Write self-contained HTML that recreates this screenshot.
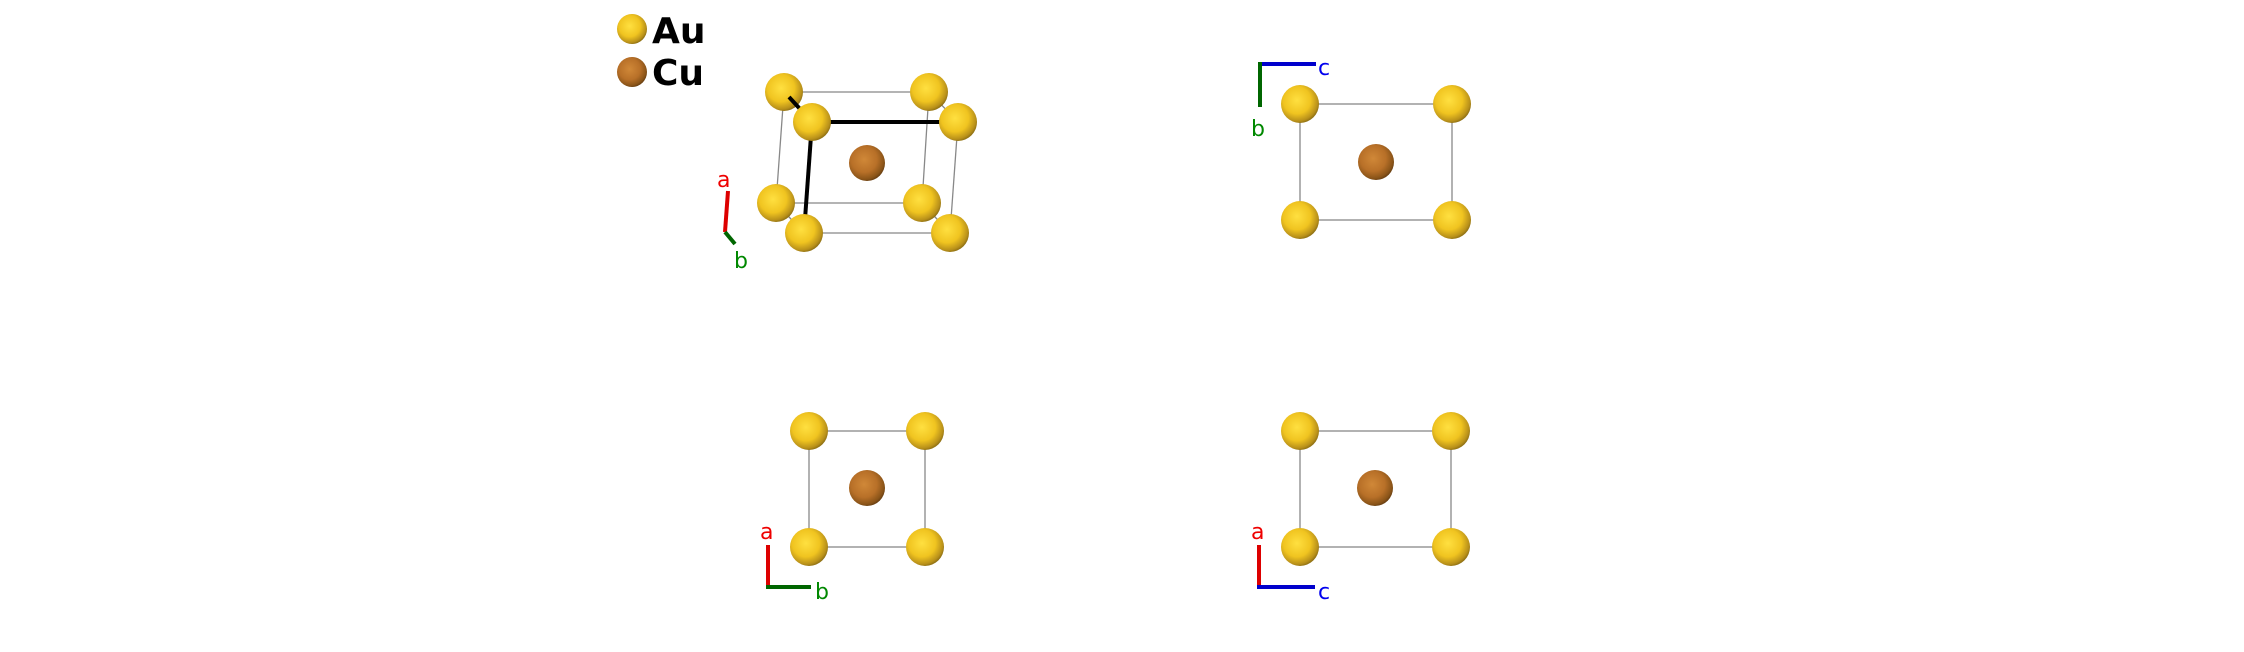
<!DOCTYPE html>
<html><head><style>body{margin:0;background:#fff}svg{display:block}text{font-family:"DejaVu Sans","Liberation Sans",sans-serif}</style></head>
<body>
<svg width="2244" height="652" viewBox="0 0 2244 652" xmlns="http://www.w3.org/2000/svg">
<defs>
<radialGradient id="au" cx="0.42" cy="0.4" r="0.65"><stop offset="0" stop-color="#ffe040"/><stop offset="0.55" stop-color="#f0c420"/><stop offset="0.85" stop-color="#b8901a"/><stop offset="1" stop-color="#7a6010"/></radialGradient>
<radialGradient id="cu" cx="0.42" cy="0.4" r="0.65"><stop offset="0" stop-color="#d08838"/><stop offset="0.55" stop-color="#b87028"/><stop offset="0.85" stop-color="#8a5418"/><stop offset="1" stop-color="#5a3610"/></radialGradient>
</defs>
<!-- legend -->
<circle cx="632" cy="29" r="15" fill="url(#au)"/>
<circle cx="632" cy="72" r="15" fill="url(#cu)"/>
<text x="652" y="43" font-size="36" font-weight="bold">Au</text>
<text x="652" y="85" font-size="36" font-weight="bold">Cu</text>
<!-- view 1 -->
<g stroke="#888" stroke-width="1.3" fill="none">
<polyline points="784,92 929,92 922,203 776,203 784,92"/>
<line x1="804" y1="233" x2="950" y2="233"/><line x1="958" y1="122" x2="950" y2="233"/>
<line x1="929" y1="92" x2="958" y2="122"/><line x1="922" y1="203" x2="950" y2="233"/><line x1="776" y1="203" x2="804" y2="233"/>
</g>
<circle cx="784" cy="92" r="19" fill="url(#au)"/><circle cx="929" cy="92" r="19" fill="url(#au)"/>
<circle cx="776" cy="203" r="19" fill="url(#au)"/><circle cx="922" cy="203" r="19" fill="url(#au)"/>
<g stroke="#000" stroke-width="4"><line x1="789" y1="97" x2="812" y2="122"/><line x1="812" y1="122" x2="958" y2="122"/><line x1="812" y1="122" x2="804" y2="233"/></g>
<circle cx="867" cy="163" r="18" fill="url(#cu)"/>
<circle cx="812" cy="122" r="19" fill="url(#au)"/><circle cx="958" cy="122" r="19" fill="url(#au)"/>
<circle cx="804" cy="233" r="19" fill="url(#au)"/><circle cx="950" cy="233" r="19" fill="url(#au)"/>
<line x1="725" y1="232" x2="728" y2="191" stroke="#d00" stroke-width="4"/>
<line x1="725" y1="232" x2="735" y2="244" stroke="#060" stroke-width="4"/>
<text x="717" y="187" font-size="22" fill="#e00">a</text>
<text x="734" y="268" font-size="22" fill="#080">b</text>
<!-- view 2 -->
<rect x="1300" y="104" width="152" height="116" fill="none" stroke="#888" stroke-width="1.3"/>
<circle cx="1300" cy="104" r="19" fill="url(#au)"/><circle cx="1452" cy="104" r="19" fill="url(#au)"/>
<circle cx="1300" cy="220" r="19" fill="url(#au)"/><circle cx="1452" cy="220" r="19" fill="url(#au)"/>
<circle cx="1376" cy="162" r="18" fill="url(#cu)"/>
<line x1="1260" y1="64" x2="1316" y2="64" stroke="#00c" stroke-width="4"/>
<line x1="1260" y1="62" x2="1260" y2="107" stroke="#060" stroke-width="4"/>
<text x="1318" y="75" font-size="22" fill="#00e">c</text>
<text x="1251" y="136" font-size="22" fill="#080">b</text>
<!-- view 3 -->
<rect x="809" y="431" width="116" height="116" fill="none" stroke="#888" stroke-width="1.3"/>
<circle cx="809" cy="431" r="19" fill="url(#au)"/><circle cx="925" cy="431" r="19" fill="url(#au)"/>
<circle cx="809" cy="547" r="19" fill="url(#au)"/><circle cx="925" cy="547" r="19" fill="url(#au)"/>
<circle cx="867" cy="488" r="18" fill="url(#cu)"/>
<line x1="768" y1="545" x2="768" y2="589" stroke="#d00" stroke-width="4"/>
<line x1="766" y1="587" x2="811" y2="587" stroke="#060" stroke-width="4"/>
<text x="760" y="539" font-size="22" fill="#e00">a</text>
<text x="815" y="599" font-size="22" fill="#080">b</text>
<!-- view 4 -->
<rect x="1300" y="431" width="151" height="116" fill="none" stroke="#888" stroke-width="1.3"/>
<circle cx="1300" cy="431" r="19" fill="url(#au)"/><circle cx="1451" cy="431" r="19" fill="url(#au)"/>
<circle cx="1300" cy="547" r="19" fill="url(#au)"/><circle cx="1451" cy="547" r="19" fill="url(#au)"/>
<circle cx="1375" cy="488" r="18" fill="url(#cu)"/>
<line x1="1259" y1="545" x2="1259" y2="589" stroke="#d00" stroke-width="4"/>
<line x1="1257" y1="587" x2="1315" y2="587" stroke="#00c" stroke-width="4"/>
<text x="1251" y="539" font-size="22" fill="#e00">a</text>
<text x="1318" y="599" font-size="22" fill="#00e">c</text>
</svg>
</body></html>
